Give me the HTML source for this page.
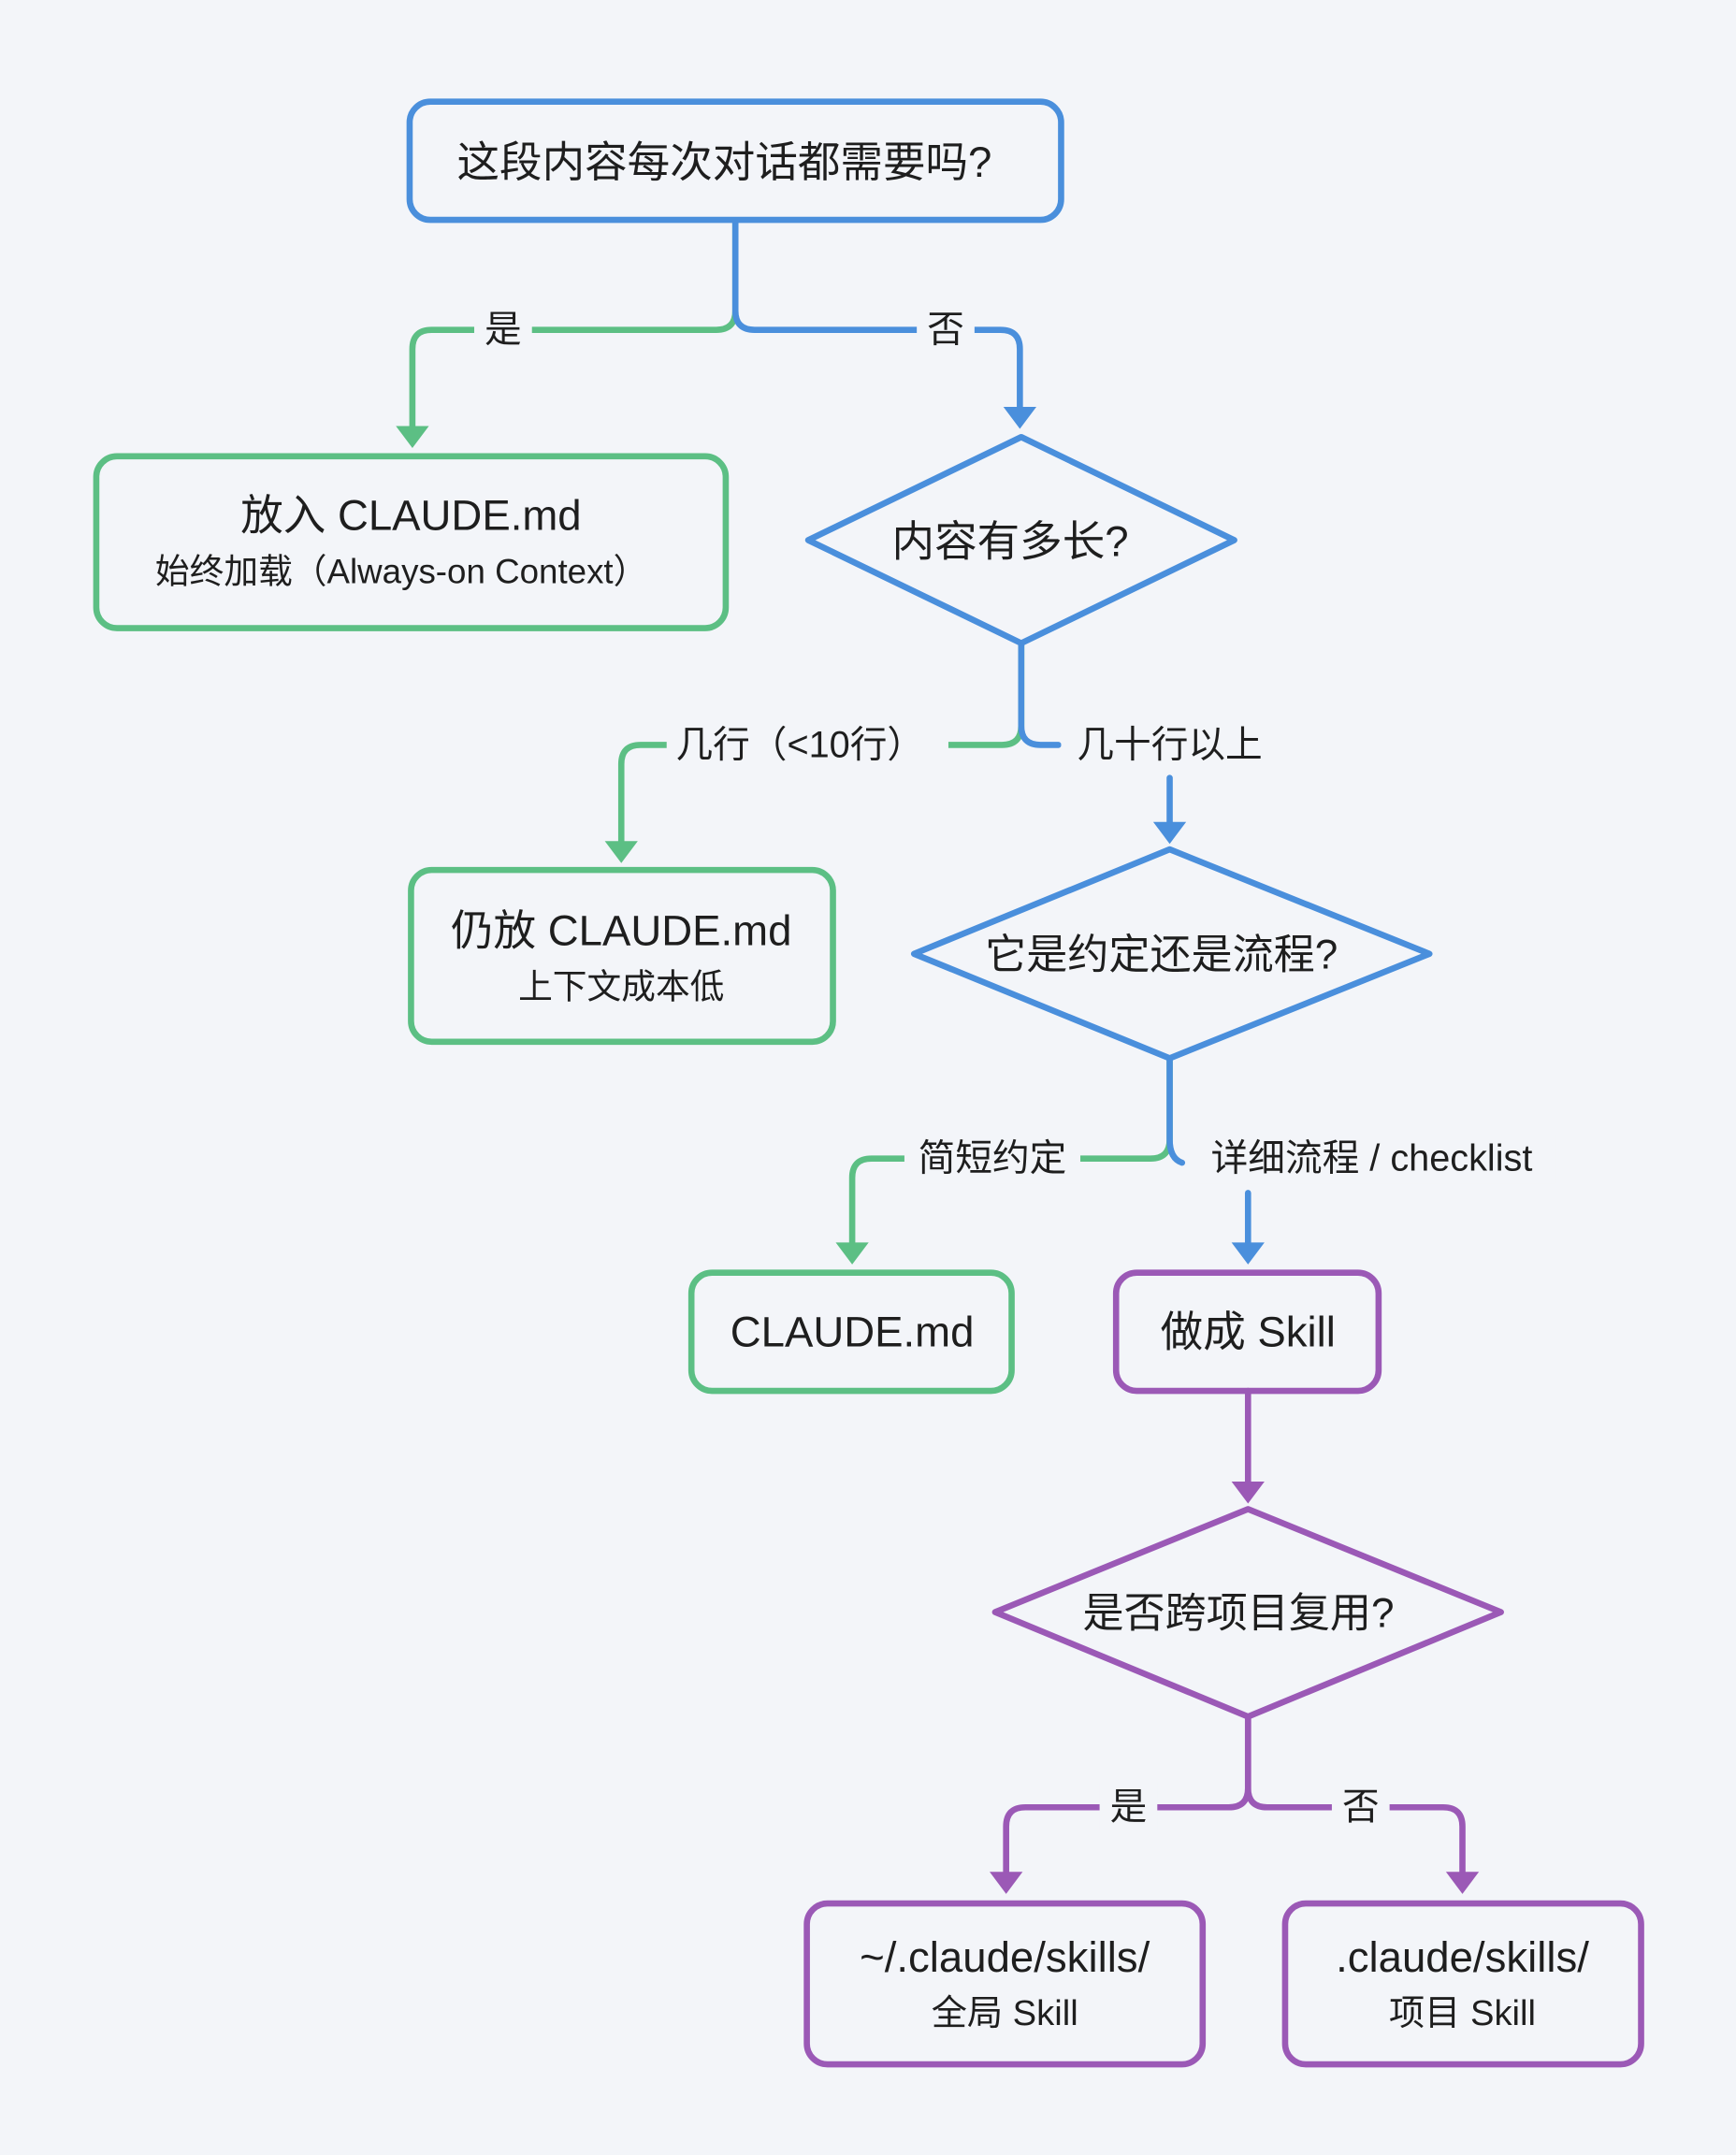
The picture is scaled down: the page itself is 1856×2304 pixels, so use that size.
<!DOCTYPE html>
<html><head><meta charset="utf-8">
<style>
html,body{margin:0;padding:0;background:#f3f5f9;}
svg{display:block;}
text{font-family:"Liberation Sans","Noto Sans CJK SC",sans-serif;fill:#1e1e1e;text-anchor:middle;dominant-baseline:central;}
</style></head><body>
<svg width="1856" height="2304" viewBox="0 0 1263 1568" xmlns="http://www.w3.org/2000/svg">
<rect width="1263" height="1568" fill="#f3f5f9"/>
<g fill="none" stroke-width="4.5" stroke-linecap="round" stroke-linejoin="round">
<!-- top split -->
<path d="M535 162 V226 Q535 240 521 240 H314 Q300 240 300 254 V312" stroke="#5cbf84"/>
<path d="M535 162 V226 Q535 240 549 240 H728 Q742 240 742 254 V300" stroke="#4a8fdc"/>
<!-- diamond1 split -->
<path d="M743 468 V528 Q743 542 729 542 H466 Q452 542 452 556 V614" stroke="#5cbf84"/>
<path d="M743 468 V528 Q743 542 757 542 H770" stroke="#4a8fdc"/>
<path d="M851 566 V604" stroke="#4a8fdc"/>
<!-- diamond2 split -->
<path d="M851 770 V829 Q851 843 837 843 H634 Q620 843 620 857 V906" stroke="#5cbf84"/>
<path d="M851 770 V829 Q851 843 860 846" stroke="#4a8fdc"/>
<path d="M908 868 V908" stroke="#4a8fdc"/>
<!-- skill to diamond3 -->
<path d="M908 1012 V1082" stroke="#9b59b6"/>
<!-- diamond3 split -->
<path d="M908 1249 V1301 Q908 1315 894 1315 H746 Q732 1315 732 1329 V1366" stroke="#9b59b6"/>
<path d="M908 1249 V1301 Q908 1315 922 1315 H1050 Q1064 1315 1064 1329 V1366" stroke="#9b59b6"/>
<!-- boxes -->
<rect x="298" y="74" width="474" height="86" rx="15" stroke="#4a8fdc"/>
<rect x="70" y="332" width="458" height="125" rx="15" stroke="#5cbf84"/>
<polygon points="743,318 898,393 743,468 588,393" stroke="#4a8fdc"/>
<rect x="299" y="633" width="307" height="125" rx="15" stroke="#5cbf84"/>
<polygon points="851,618 1040,694 851,770 665,694" stroke="#4a8fdc"/>
<rect x="503" y="926" width="233" height="86" rx="15" stroke="#5cbf84"/>
<rect x="812" y="926" width="191" height="86" rx="15" stroke="#9b59b6"/>
<polygon points="908,1098 1092,1173 908,1249 724,1173" stroke="#9b59b6"/>
<rect x="587" y="1385" width="288" height="117" rx="15" stroke="#9b59b6"/>
<rect x="935" y="1385" width="259" height="117" rx="15" stroke="#9b59b6"/>
</g>
<!-- arrowheads -->
<g>
<polygon points="288,310 312,310 300,326" fill="#5cbf84"/>
<polygon points="730,296 754,296 742,312" fill="#4a8fdc"/>
<polygon points="440,612 464,612 452,628" fill="#5cbf84"/>
<polygon points="839,598 863,598 851,614" fill="#4a8fdc"/>
<polygon points="608,904 632,904 620,920" fill="#5cbf84"/>
<polygon points="896,904 920,904 908,920" fill="#4a8fdc"/>
<polygon points="896,1078 920,1078 908,1094" fill="#9b59b6"/>
<polygon points="720,1362 744,1362 732,1378" fill="#9b59b6"/>
<polygon points="1052,1362 1076,1362 1064,1378" fill="#9b59b6"/>
</g>
<!-- label backgrounds -->
<g fill="#f3f5f9">
<rect x="345" y="222" width="42" height="36"/>
<rect x="667" y="222" width="42" height="36"/>
<rect x="485" y="524" width="205" height="36"/>
<rect x="772" y="524" width="158" height="36"/>
<rect x="658" y="825" width="128" height="36"/>
<rect x="864" y="825" width="268" height="36"/>
<rect x="800" y="1297" width="42" height="36"/>
<rect x="969" y="1297" width="42" height="36"/>
</g>
<!-- text -->
<text x="527" y="118" font-size="31">这段内容每次对话都需要吗?</text>
<text x="366" y="240" font-size="27">是</text>
<text x="688" y="240" font-size="27">否</text>
<text x="299" y="375" font-size="31">放入 CLAUDE.md</text>
<text x="292" y="416" font-size="25">始终加载（Always-on Context）</text>
<text x="735" y="394" font-size="31">内容有多长?</text>
<text x="582" y="542" font-size="27">几行（&lt;10行）</text>
<text x="851" y="542" font-size="27">几十行以上</text>
<text x="452" y="677" font-size="31">仍放 CLAUDE.md</text>
<text x="452" y="718" font-size="25">上下文成本低</text>
<text x="845" y="695" font-size="30">它是约定还是流程?</text>
<text x="722" y="843" font-size="27">简短约定</text>
<text x="998" y="843" font-size="27">详细流程 / checklist</text>
<text x="620" y="969" font-size="31">CLAUDE.md</text>
<text x="908" y="969" font-size="31">做成 Skill</text>
<text x="901" y="1174" font-size="30">是否跨项目复用?</text>
<text x="821" y="1315" font-size="27">是</text>
<text x="990" y="1315" font-size="27">否</text>
<text x="731" y="1424" font-size="31">~/.claude/skills/</text>
<text x="731" y="1465" font-size="26">全局 Skill</text>
<text x="1064" y="1424" font-size="31">.claude/skills/</text>
<text x="1064" y="1465" font-size="26">项目 Skill</text>
</svg>
</body></html>
